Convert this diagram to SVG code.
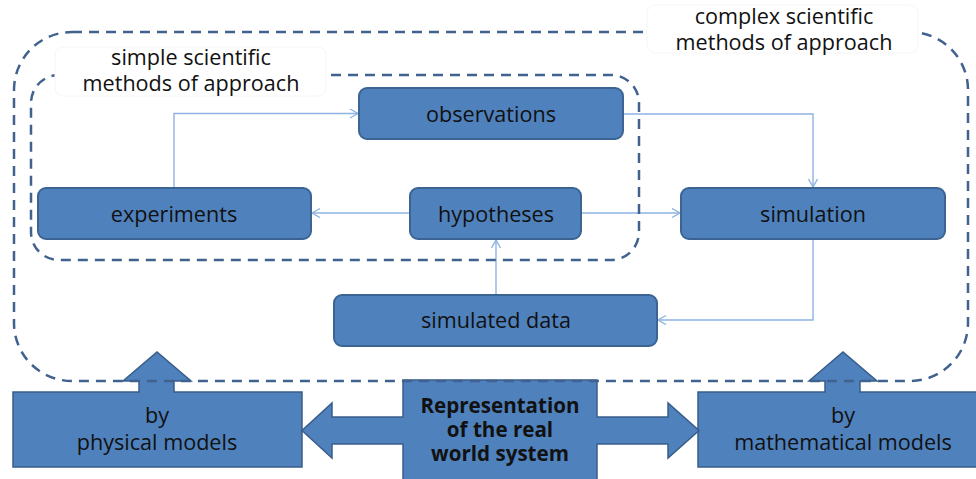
<svg xmlns="http://www.w3.org/2000/svg" width="976" height="479" viewBox="0 0 976 479">
<defs>
<style>
.node{fill:#4F81BD;stroke:#3B6493;stroke-width:2}
.big{fill:#4F81BD;stroke:#385D8A;stroke-width:1.5}
.dash{fill:none;stroke:#41628F;stroke-width:2.5;stroke-dasharray:10 7}
.conn{fill:none;stroke:#8DB3E2;stroke-width:1.4}
.t{font-family:"Open Sans","Liberation Sans",sans-serif;font-size:21.6px;fill:#111;text-anchor:middle}
.tb{font-family:"Open Sans","Liberation Sans",sans-serif;font-size:20.6px;font-weight:700;fill:#111;text-anchor:middle}
.lbl{fill:#fff;stroke:#f6f6f6;stroke-width:1}
</style>
<marker id="arr" markerUnits="userSpaceOnUse" markerWidth="12" markerHeight="12" refX="9" refY="5" orient="auto">
<path d="M1,0.5 L9,5 L1,9.5" fill="none" stroke="#8DB3E2" stroke-width="1.4"/>
</marker>
</defs>
<rect width="976" height="479" fill="#fff"/>

<g id="connectors">
<path class="conn" d="M174,188 V113.5 H358" marker-end="url(#arr)"/>
<path class="conn" d="M623,114 H813 V187" marker-end="url(#arr)"/>
<path class="conn" d="M813,239 V320 H658" marker-end="url(#arr)"/>
<path class="conn" d="M496,295 V240" marker-end="url(#arr)"/>
<path class="conn" d="M410,213 H312" marker-end="url(#arr)"/>
<path class="conn" d="M581,213 H680" marker-end="url(#arr)"/>
</g>

<g id="physical-models">
<polygon class="big" points="13,392 139,392 139,381 123,381 157,352 191,381 174,381 174,392 302,392 302,467 13,467"/>
<text class="t" x="157" y="423">by</text>
<text class="t" x="157" y="450">physical models</text>
</g>
<g id="mathematical-models">
<polygon class="big" points="698,392 825,392 825,381 809,381 843,352 877,381 860,381 860,392 990,392 990,467 698,467"/>
<text class="t" x="843" y="423">by</text>
<text class="t" x="843" y="450">mathematical models</text>
</g>
<g id="real-world-system">
<polygon class="big" points="403,380 597,380 597,417 668,417 668,403 699,430.5 668,458 668,444 597,444 597,486 403,486 403,444 332,444 332,458 302,430.5 332,403 332,417 403,417"/>
<text class="tb" x="500" y="413">Representation</text>
<text class="tb" x="500" y="437">of the real</text>
<text class="tb" x="500" y="461">world system</text>
</g>

<g id="complex-methods">
<rect class="dash" x="14" y="32" width="954" height="349" rx="58" ry="58"/>
<rect class="lbl" x="647" y="5" width="271" height="48" rx="8"/>
<text class="t" x="784" y="23.5">complex scientific</text>
<text class="t" x="784" y="50">methods of approach</text>
</g>
<g id="simple-methods">
<rect class="dash" x="31" y="75" width="608" height="185" rx="28" ry="28"/>
<rect class="lbl" x="55" y="47" width="271" height="49" rx="8"/>
<text class="t" x="191" y="65">simple scientific</text>
<text class="t" x="191" y="91">methods of approach</text>
</g>

<g id="observations">
<rect class="node" x="359" y="88" width="264" height="51" rx="8"/>
<text class="t" x="491" y="121.5">observations</text>
</g>
<g id="experiments">
<rect class="node" x="38" y="188" width="273" height="51" rx="8"/>
<text class="t" x="174" y="221.5">experiments</text>
</g>
<g id="hypotheses">
<rect class="node" x="410" y="188" width="171" height="51" rx="8"/>
<text class="t" x="496" y="221.5">hypotheses</text>
</g>
<g id="simulation">
<rect class="node" x="681" y="188" width="264" height="51" rx="8"/>
<text class="t" x="813" y="221.5">simulation</text>
</g>
<g id="simulated-data">
<rect class="node" x="334" y="295" width="323" height="51" rx="8"/>
<text class="t" x="496" y="328">simulated data</text>
</g>
</svg>
